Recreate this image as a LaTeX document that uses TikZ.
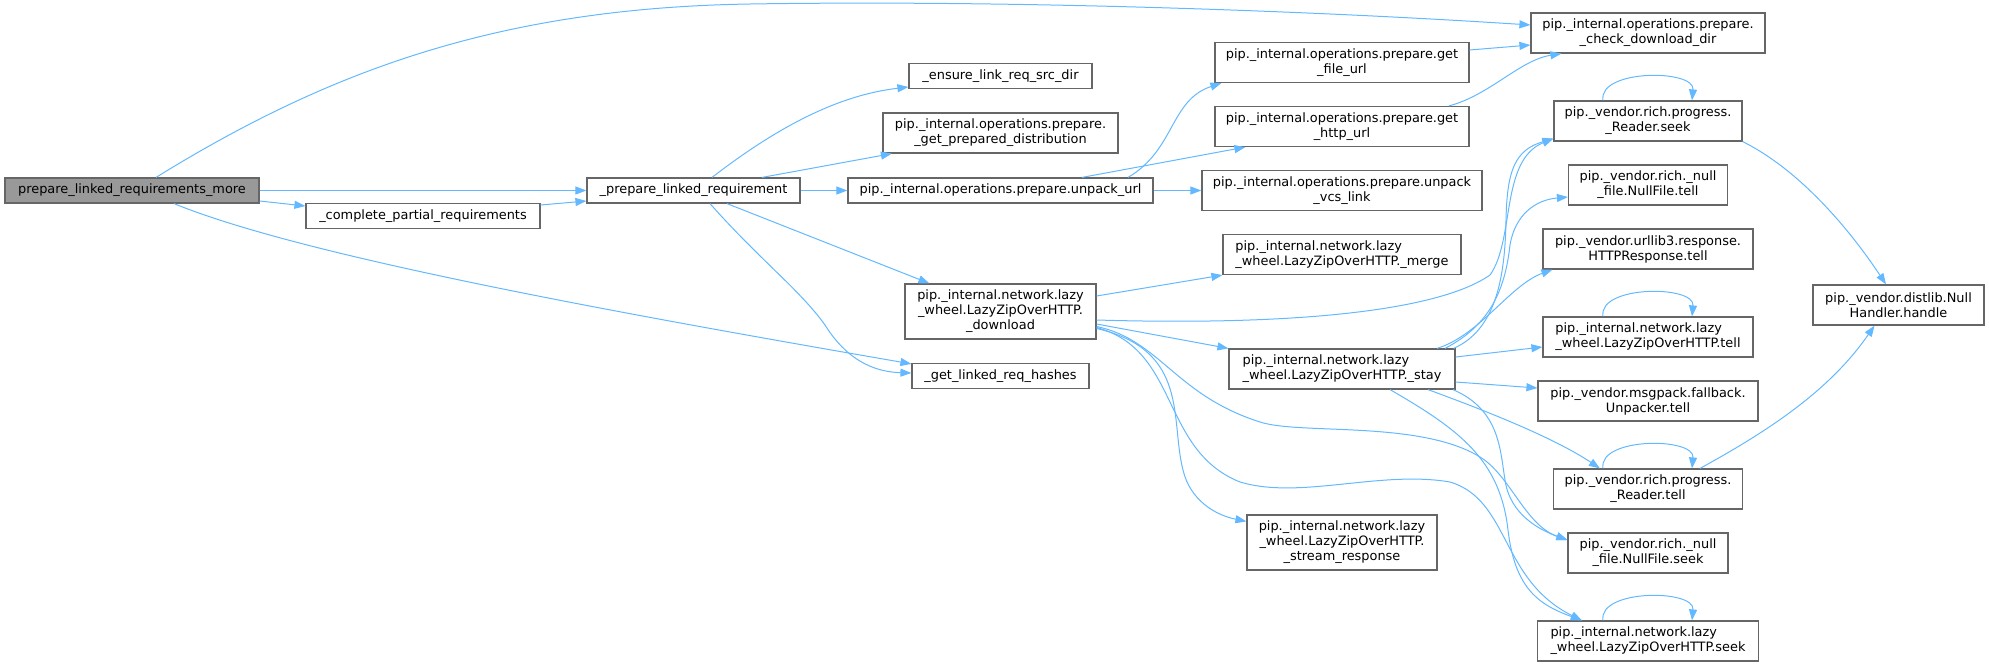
\documentclass[tikz,border=0pt]{standalone}
\usepackage{fontspec}
\setmainfont{DejaVu Sans}
\usepackage{tikz}
\usetikzlibrary{positioning}
\usetikzlibrary{arrows.meta}

\definecolor{callblue}{HTML}{63B8FF}
\definecolor{boxgray}{HTML}{666666}
\definecolor{rootgray}{HTML}{999999}

\tikzset{
  fn/.style={draw=boxgray, fill=white, line width=1.2pt, inner sep=0pt, align=center,
    font=\fontsize{12.9}{15}\selectfont, minimum height=40pt},
  fnone/.style={fn, minimum height=25pt},
  fnthree/.style={fn, minimum height=55pt},
  root/.style={fnone, fill=rootgray},
  call/.style={draw=callblue, line width=1pt, -{Triangle[length=11pt,width=8pt]}},
}

\begin{document}
\begin{tikzpicture}[x=1pt, y=-1pt, on grid]

  \useasboundingbox (0,0) rectangle (1989,667);

  % Define nodes
  \node[root, minimum width=254pt] at (132,190.5) (more) {prepare\_linked\_requirements\_more};
  \node[fnone, minimum width=213pt, right=561.5pt of more] (prep) {\_prepare\_linked\_requirement};
  \node[fnone, minimum width=234pt, right=291pt of more, yshift=-25.5pt] (complete) {\_complete\_partial\_requirements};

  \node[fnone, minimum width=305pt, right=307pt of prep] (unpack) {pip.\_internal.operations.prepare.unpack\_url};
  \node[fn, minimum width=235pt, above=57.5pt of unpack] (getdist) {pip.\_internal.operations.prepare.\\\_get\_prepared\_distribution};
  \node[fnone, minimum width=183pt, above=57pt of getdist] (ensure) {\_ensure\_link\_req\_src\_dir};
  \node[fnthree, minimum width=191pt, below=121pt of unpack] (download) {pip.\_internal.network.lazy\\\_wheel.LazyZipOverHTTP.\\\_download};
  \node[fnone, minimum width=177pt, below=64.5pt of download] (hashes) {\_get\_linked\_req\_hashes};

  \node[fn, minimum width=280pt, right=341.5pt of unpack] (vcslink) {pip.\_internal.operations.prepare.unpack\\\_vcs\_link};
  \node[fn, minimum width=254pt, above=64pt of vcslink] (httpurl) {pip.\_internal.operations.prepare.get\\\_http\_url};
  \node[fn, minimum width=254pt, above=64pt of httpurl] (fileurl) {pip.\_internal.operations.prepare.get\\\_file\_url};
  \node[fn, minimum width=238pt, below=64pt of vcslink, align=left] (merge) {pip.\_internal.network.lazy\\\_wheel.LazyZipOverHTTP.\_merge};
  \node[fn, minimum width=226pt, below=114.5pt of merge, align=left] (stay) {pip.\_internal.network.lazy\\\_wheel.LazyZipOverHTTP.\_stay};
  \node[fnthree, minimum width=190pt, below=173.5pt of stay] (stream) {pip.\_internal.network.lazy\\\_wheel.LazyZipOverHTTP.\\\_stream\_response};

  \node[fn, minimum width=234pt, right=306pt of fileurl, yshift=29.5pt] (checkdir) {pip.\_internal.operations.prepare.\\\_check\_download\_dir};
  \node[fn, minimum width=188pt, below=88pt of checkdir] (rseek) {pip.\_vendor.rich.progress.\\\_Reader.seek};
  \node[fn, minimum width=159pt, below=64pt of rseek] (nftell) {pip.\_vendor.rich.\_null\\\_file.NullFile.tell};
  \node[fn, minimum width=210pt, below=64pt of nftell] (httptell) {pip.\_vendor.urllib3.response.\\HTTPResponse.tell};
  \node[fn, minimum width=210pt, below=88pt of httptell, align=left] (lztell) {pip.\_internal.network.lazy\\\_wheel.LazyZipOverHTTP.tell};
  \node[fn, minimum width=220pt, below=64pt of lztell] (uptell) {pip.\_vendor.msgpack.fallback.\\Unpacker.tell};
  \node[fn, minimum width=189pt, below=88pt of uptell] (rtell) {pip.\_vendor.rich.progress.\\\_Reader.tell};
  \node[fn, minimum width=160pt, below=64pt of rtell] (nfseek) {pip.\_vendor.rich.\_null\\\_file.NullFile.seek};
  \node[fn, minimum width=221pt, below=88pt of nfseek, align=left] (lzseek) {pip.\_internal.network.lazy\\\_wheel.LazyZipOverHTTP.seek};

  \node[fn, minimum width=171pt, right=250.5pt of httptell, yshift=-56pt] (nullh) {pip.\_vendor.distlib.Null\\Handler.handle};

  % Connect the nodes
  \draw[call] ([xshift=24pt]more.north) .. controls (330,70) and (500,8) .. (750,4)
    .. controls (1000,0) and (1300,10) .. ([yshift=8pt]checkdir.west);
  \draw[call] (more.east) -- (prep.west);
  \draw[call] ([yshift=-10.5pt]more.east) -- ([yshift=10pt]complete.west);
  \draw[call] ([yshift=11pt]complete.east) -- ([yshift=-10.5pt]prep.west);
  \draw[call] ([xshift=42pt]more.south) .. controls (300,255) and (600,310) .. ([yshift=-1pt]hashes.north west);

  \draw[call] ([xshift=18.5pt]prep.north) .. controls (780,125) and (840,95) .. ([yshift=-11pt]ensure.west);
  \draw[call] ([xshift=68.5pt]prep.north) -- ([xshift=9.5pt]getdist.south west);
  \draw[call] (prep.east) -- (unpack.west);
  \draw[call] ([xshift=33.5pt]prep.south) -- ([xshift=25pt]download.north west);
  \draw[call] ([xshift=16.5pt]prep.south) .. controls (760,260) and (800,290) .. (825,325)
    .. controls (850,365) and (880,372) .. ([yshift=3pt]hashes.west);

  \draw[call] ([xshift=127.5pt]unpack.north) .. controls (1175,150) and (1170,100) .. ([xshift=7pt]fileurl.south west);
  \draw[call] ([xshift=81.5pt]unpack.north) -- ([xshift=31pt]httpurl.south west);
  \draw[call] (unpack.east) -- (vcslink.west);
  \draw[call] ([yshift=12.5pt]fileurl.east) -- ([yshift=-12pt]checkdir.west);
  \draw[call] ([xshift=107pt]httpurl.north) .. controls (1490,95) and (1520,60) .. ([xshift=31pt]checkdir.south west);

  \draw[call] ([yshift=15.5pt]download.east) -- (merge.south west);
  \draw[call] ([yshift=-8.5pt]download.east) .. controls (1300,326) and (1440,310) .. (1490,275)
    .. controls (1515,240) and (1500,160) .. ([yshift=3pt]rseek.south west);
  \draw[call] ([yshift=-12.5pt]download.east) -- (stay.north west);
  \draw[call] ([yshift=-15pt]download.east) .. controls (1160,340) and (1175,395) .. (1260,422)
    .. controls (1300,435) and (1420,420) .. (1480,457)
    .. controls (1510,475) and (1525,525) .. ([yshift=13pt]nfseek.west);
  \draw[call] ([yshift=-16pt]download.east) .. controls (1180,350) and (1160,450) .. (1240,482)
    .. controls (1300,500) and (1380,470) .. (1450,482)
    .. controls (1510,500) and (1500,580) .. ([xshift=45pt]lzseek.north west);
  \draw[call] ([yshift=-17pt]download.east) .. controls (1190,350) and (1170,420) .. (1183,470)
    .. controls (1190,500) and (1215,515) .. ([yshift=-7pt]stream.north west);

  \draw[call] ([xshift=-2pt]stay.north east) .. controls (1495,330) and (1505,280) .. (1506,220)
    .. controls (1507,170) and (1515,150) .. ([yshift=3pt]rseek.south west);
  \draw[call] ([xshift=103pt]stay.north) .. controls (1490,325) and (1505,290) .. (1510,245)
    .. controls (1515,215) and (1535,200) .. ([yshift=-12pt]nftell.west);
  \draw[call] ([xshift=95pt]stay.north) .. controls (1480,335) and (1510,285) .. ([xshift=10pt]httptell.south west);
  \draw[call] ([yshift=12pt]stay.east) -- ([yshift=-10pt]lztell.west);
  \draw[call] ([yshift=-13pt]stay.east) -- ([yshift=13pt]uptell.west);
  \draw[call] ([xshift=86pt]stay.south) .. controls (1470,405) and (1550,435) .. ([xshift=47pt]rtell.north west);
  \draw[call] ([xshift=111pt]stay.south) .. controls (1500,410) and (1500,450) .. (1505,480)
    .. controls (1510,515) and (1540,530) .. ([yshift=13pt]nfseek.west);
  \draw[call] ([xshift=48pt]stay.south) .. controls (1460,430) and (1500,460) .. (1508,530)
    .. controls (1515,590) and (1540,605) .. ([xshift=45pt]lzseek.north west);

  \draw[call] (rseek.south east) .. controls (1800,170) and (1850,230) .. ([xshift=-12.5pt]nullh.north);
  \draw[call] ([xshift=52pt]rtell.north) .. controls (1770,430) and (1830,390) .. ([xshift=-24pt]nullh.south);

  % Self calls
  \draw[call] ([xshift=-45pt]rseek.north) .. controls (1598,69) and (1695,69) .. ([xshift=44pt]rseek.north);
  \draw[call] ([xshift=-45pt]lztell.north) .. controls (1598,285) and (1695,285) .. ([xshift=44pt]lztell.north);
  \draw[call] ([xshift=-45pt]rtell.north) .. controls (1598,437) and (1695,437) .. ([xshift=44pt]rtell.north);
  \draw[call] ([xshift=-45pt]lzseek.north) .. controls (1598,589) and (1695,589) .. ([xshift=44pt]lzseek.north);

\end{tikzpicture}
\end{document}
